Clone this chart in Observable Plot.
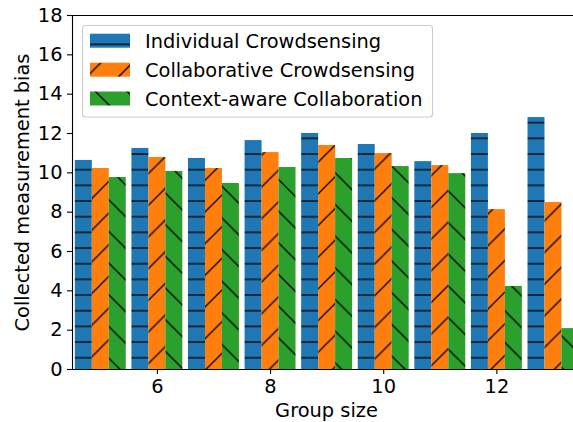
<!DOCTYPE html>
<html>
<head>
<meta charset="utf-8">
<script src="https://cdn.jsdelivr.net/npm/d3@7"></script>
<script src="https://cdn.jsdelivr.net/npm/@observablehq/plot@0.6"></script>
<style>
  html, body { margin: 0; padding: 0; background: #fff; overflow: hidden; }
  svg { display: block; }
</style>
</head>
<body>
<div id="chart"></div>
<script>
const groups = [5, 6, 7, 8, 9, 10, 11, 12, 13];
const seriesNames = ["Individual Crowdsensing", "Collaborative Crowdsensing", "Context-aware Collaboration"];
const individual    = [10.63, 11.24, 10.73, 11.64, 12.00, 11.44, 10.57, 12.00, 12.81];
const collaborative = [10.22, 10.78, 10.22, 11.03, 11.39, 10.98, 10.37, 8.13, 8.49];
const contextAware  = [9.76, 10.07, 9.46, 10.27, 10.73, 10.32, 9.96, 4.22, 2.08];
const xTicks = [6, 8, 10, 12];
const yTicks = [0, 2, 4, 6, 8, 10, 12, 14, 16, 18];
const xLabel = "Group size";
const yLabel = "Collected measurement bias";

const colors = ["#1f77b4", "#ff7f0e", "#2ca02c"];
const patternIds = ["hatch-h", "hatch-slash", "hatch-back"];
const barWidth = 0.3;
const allValues = [individual, collaborative, contextAware];

const rows = [];
allValues.forEach((vals, s) => {
  groups.forEach((g, i) => {
    const offset = (s - 1) * barWidth;
    rows.push({series: seriesNames[s], s, g, x1: g + offset - barWidth / 2, x2: g + offset + barWidth / 2, y: vals[i]});
  });
});

const font = "DejaVu Sans, sans-serif";
const fs = 19.4;

const chart = Plot.plot({
  width: 573,
  height: 422,
  marginLeft: 72,
  marginRight: 0,
  marginTop: 15,
  marginBottom: 53,
  style: {fontFamily: font, fontSize: fs + "px", color: "black", background: "white", overflow: "hidden"},
  x: {type: "linear", domain: [4.5, 13.354], ticks: xTicks, label: null},
  y: {domain: [0, 18], ticks: yTicks, label: null},
  marks: [
    Plot.rect(rows, {x1: "x1", x2: "x2", y1: 0, y2: "y", fill: d => `url(#${patternIds[d.s]})`, clip: true}),
    Plot.axisX({ticks: xTicks, tickSize: 5, tickPadding: 5, label: null, tickFormat: d => String(d), stroke: "black", strokeWidth: 1.1}),
    Plot.axisY({ticks: yTicks, tickSize: 5, tickPadding: 5, label: null, tickFormat: d => String(d), stroke: "black", strokeWidth: 1.1}),
    Plot.ruleY([0], {stroke: "black", strokeWidth: 1.1}),
    Plot.ruleY([18], {stroke: "black", strokeWidth: 1.1}),
    Plot.ruleX([4.5], {stroke: "black", strokeWidth: 1.1}),
    Plot.text([xLabel], {frameAnchor: "bottom", dx: 3.5, dy: 41, textAnchor: "middle", lineAnchor: "middle", fill: "black"}),
    Plot.text([yLabel], {frameAnchor: "left", dx: -50, rotate: -90, textAnchor: "middle", lineAnchor: "middle", fill: "black"})
  ]
});

document.getElementById("chart").appendChild(chart);

// hatch patterns (user space, anchored like matplotlib's figure-wide hatching)
const svg = d3.select(chart);
const defs = svg.insert("defs", ":first-child");
const P = 31.67, H = 15.67;
const ph = defs.append("pattern").attr("id", "hatch-h").attr("patternUnits", "userSpaceOnUse")
  .attr("width", 20).attr("height", H).attr("patternTransform", `translate(0,${13 - H / 2})`);
ph.append("rect").attr("width", 20).attr("height", H).attr("fill", colors[0]);
ph.append("line").attr("x1", -1).attr("x2", 21).attr("y1", H / 2).attr("y2", H / 2).attr("stroke", "#000").attr("stroke-width", 1.3);

const ps = defs.append("pattern").attr("id", "hatch-slash").attr("patternUnits", "userSpaceOnUse")
  .attr("width", P).attr("height", P).attr("patternTransform", "translate(5.26,0)");
ps.append("rect").attr("width", P).attr("height", P).attr("fill", colors[1]);
ps.append("path").attr("d", `M-2,2L2,-2M-1,${P + 1}L${P + 1},-1M${P - 2},${P + 2}L${P + 2},${P - 2}`).attr("stroke", "#000").attr("stroke-width", 1.3);

const pb = defs.append("pattern").attr("id", "hatch-back").attr("patternUnits", "userSpaceOnUse")
  .attr("width", P).attr("height", P).attr("patternTransform", "translate(0,27.65)");
pb.append("rect").attr("width", P).attr("height", P).attr("fill", colors[2]);
pb.append("path").attr("d", `M-2,${P - 2}L2,${P + 2}M-1,-1L${P + 1},${P + 1}M${P - 2},-2L${P + 2},2`).attr("stroke", "#000").attr("stroke-width", 1.3);

// legend inside the axes (upper left)
const lg = svg.append("g").attr("font-family", font).attr("font-size", fs).attr("text-anchor", "start");
lg.append("rect").attr("x", 82.5).attr("y", 25.5).attr("width", 350).attr("height", 91.5)
  .attr("rx", 3).attr("fill", "white").attr("fill-opacity", 0.8).attr("stroke", "#cccccc").attr("stroke-width", 1.1);
const rowCenters = [40.7, 69.7, 98.5];
seriesNames.forEach((name, s) => {
  lg.append("rect").attr("x", 90).attr("y", rowCenters[s] - 7).attr("width", 40).attr("height", 14)
    .attr("fill", `url(#${patternIds[s]})`);
  lg.append("text").attr("x", 145).attr("y", rowCenters[s] + 7.1).attr("text-anchor", "start").attr("fill", "black").text(name);
});
</script>
</body>
</html>
